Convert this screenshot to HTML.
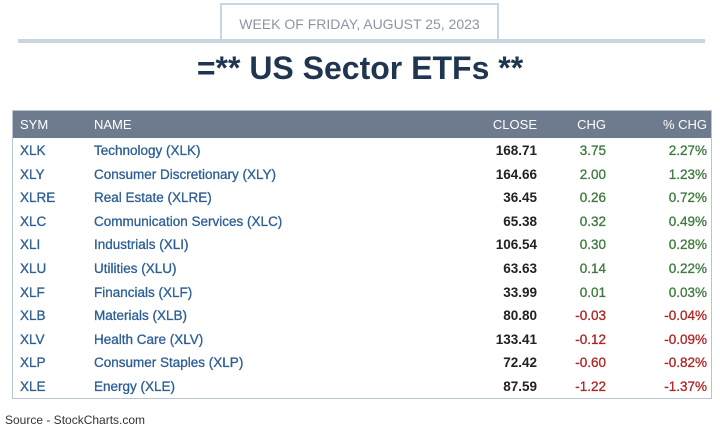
<!DOCTYPE html>
<html><head><meta charset="utf-8"><style>
body{margin:0;width:720px;height:432px;background:#fff;font-family:"Liberation Sans",sans-serif;position:relative;overflow:hidden}
#datebox{position:absolute;left:220px;top:3px;width:279px;height:37px;border:2px solid #c9d5e0;border-bottom:none;box-sizing:border-box;text-align:center;line-height:38px;color:#8c96a3;font-size:14px}
#rule{position:absolute;left:18px;top:39px;width:687px;height:4px;background:#c9d5e0}
#title{position:absolute;left:0;top:50px;width:720px;text-align:center;font-size:32px;font-weight:bold;color:#1f3550}
#tbl{position:absolute;left:12px;top:110px;width:700px;height:289px;border:1px solid #b8c4d0;box-sizing:border-box}
.hdr{position:absolute;left:0;top:0;width:698px;height:27px;background:#6e7b8e;color:#fff;font-size:13px}
.row{position:absolute;left:0;width:698px;height:23.7px;font-size:13.5px}
.c{position:absolute;top:0;line-height:inherit}
.sym{left:7px}.nm{left:81px}.cl{right:174px}.ch{right:105px}.pc{right:4px}
.row .sym,.row .nm{color:#2c5e95;-webkit-text-stroke:0.3px #2c5e95}
.row .cl{color:#222;font-weight:bold}
.pos{color:#3d7a3d;-webkit-text-stroke:0.3px #3d7a3d}.neg{color:#b02525;-webkit-text-stroke:0.3px #b02525}
#src{position:absolute;left:5px;top:413px;font-size:12px;color:#333}
</style></head><body>
<div id="datebox">WEEK OF FRIDAY, AUGUST 25, 2023</div>
<div id="rule"></div>
<div id="title">=** US Sector ETFs **</div>
<div id="tbl">
<div class="hdr" style="line-height:27px">
<span class="c sym">SYM</span>
<span class="c nm">NAME</span>
<span class="c cl">CLOSE</span>
<span class="c ch">CHG</span>
<span class="c pc">% CHG</span>
</div>
<div id="rows"></div>
</div>
<div id="src">Source - StockCharts.com</div>
<script>
const syms=["XLK","XLY","XLRE","XLC","XLI","XLU","XLF","XLB","XLV","XLP","XLE"];
const names=["Technology (XLK)","Consumer Discretionary (XLY)","Real Estate (XLRE)","Communication Services (XLC)","Industrials (XLI)","Utilities (XLU)","Financials (XLF)","Materials (XLB)","Health Care (XLV)","Consumer Staples (XLP)","Energy (XLE)"];
const closes=["168.71","164.66","36.45","65.38","106.54","63.63","33.99","80.80","133.41","72.42","87.59"];
const chgs=[3.75,2.00,0.26,0.32,0.30,0.14,0.01,-0.03,-0.12,-0.60,-1.22];
const pcts=[2.27,1.23,0.72,0.49,0.28,0.22,0.03,-0.04,-0.09,-0.82,-1.37];
const rows=document.getElementById('rows');
syms.forEach((s,i)=>{
 const r=document.createElement('div');
 r.className='row';
 
 
 r.style.top=(28+i*23.6)+'px';
 r.style.lineHeight='23.6px';
 const cls=chgs[i]<0?'neg':'pos';
 r.innerHTML='<span class="c sym">'+s+'</span><span class="c nm">'+names[i]+'</span><span class="c cl">'+closes[i]+'</span><span class="c ch '+cls+'">'+chgs[i].toFixed(2)+'</span><span class="c pc '+cls+'">'+pcts[i].toFixed(2)+'%</span>';
 rows.appendChild(r);
});
</script>
</body></html>
